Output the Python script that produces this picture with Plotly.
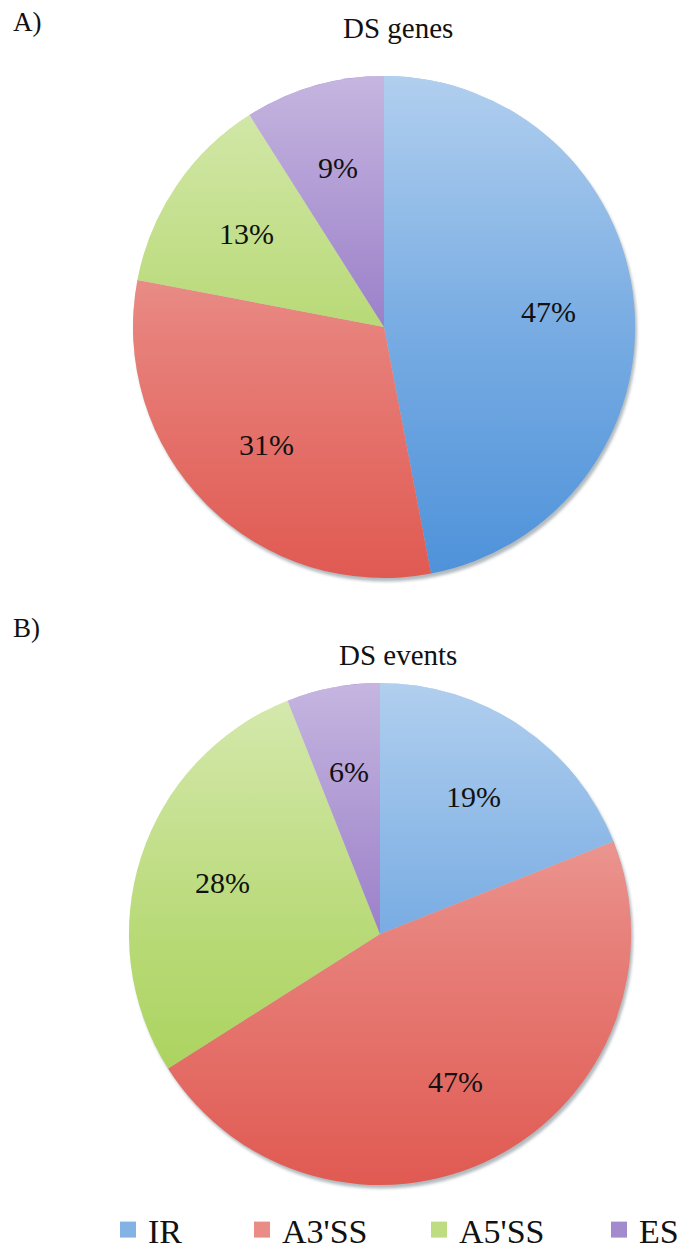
import base64
import math
import plotly.graph_objects as go

# Splicing categories and their shares (%)
categories = ["IR", "A3'SS", "A5'SS", "ES"]
genes_pct = [47, 31, 13, 9]
events_pct = [19, 47, 28, 6]
panel_titles = ["DS genes", "DS events"]
panel_tags = ["A)", "B)"]

# deep slice tones; a white wash over the upper part lightens them
base_rgb = [(78, 146, 218), (224, 90, 82), (162, 206, 76), (124, 88, 184)]
FONT = "Liberation Serif"
INK = "#111111"

W, H = 686, 1254

# Pie placement in pixels: (left, right, top, bottom)
pie_boxes = [(133, 635, 76, 578), (129, 631, 683, 1185)]
LABEL_FRAC = 0.66  # radial position of the percentage labels


def rgb(c):
    return "rgb(%d,%d,%d)" % c


def tint(c, w):
    return tuple(round(v * (1 - w) + 255 * w) for v in c)


def svg_uri(svg):
    return "data:image/svg+xml;base64," + base64.b64encode(svg.encode()).decode()


# vertical light-to-deep shading laid over each pie
SHADE = svg_uri(
    "<svg xmlns='http://www.w3.org/2000/svg' viewBox='0 0 100 100' "
    "preserveAspectRatio='none' width='100' height='100'>"
    "<defs><linearGradient id='g' x1='0' y1='0' x2='0' y2='1'>"
    "<stop offset='0' stop-color='#ffffff' stop-opacity='0.56'/>"
    "<stop offset='0.5' stop-color='#ffffff' stop-opacity='0.24'/>"
    "<stop offset='1' stop-color='#ffffff' stop-opacity='0'/>"
    "</linearGradient></defs>"
    "<circle cx='50' cy='50' r='50' fill='url(#g)'/></svg>"
)
# faint drop shadow beneath each pie
SHADOW = svg_uri(
    "<svg xmlns='http://www.w3.org/2000/svg' viewBox='-5 -5 110 110' "
    "preserveAspectRatio='none' width='110' height='110'>"
    "<defs><filter id='b' x='-20%' y='-20%' width='140%' height='140%'>"
    "<feGaussianBlur stdDeviation='0.35'/></filter></defs>"
    "<circle cx='50.4' cy='50.7' r='50' fill='#9aa3a8' fill-opacity='0.75' "
    "filter='url(#b)'/></svg>"
)

fig = go.Figure()
images = []
annotations = []

for vals, (x0, x1, y0, y1) in zip([genes_pct, events_pct], pie_boxes):
    fig.add_trace(go.Pie(
        labels=categories,
        values=vals,
        sort=False,
        direction="clockwise",
        rotation=0,
        domain=dict(x=[x0 / W, x1 / W], y=[1 - y1 / H, 1 - y0 / H]),
        marker=dict(colors=[rgb(c) for c in base_rgb], line=dict(width=0)),
        textinfo="none",
        showlegend=False,
        hoverinfo="label+value",
    ))
    d = x1 - x0
    pad = d * 5 / 100
    images.append(dict(source=SHADOW, xref="paper", yref="paper",
                       x=(x0 - pad) / W, y=1 - (y0 - pad) / H,
                       sizex=(d + 2 * pad) / W, sizey=(d + 2 * pad) / H,
                       xanchor="left", yanchor="top", sizing="stretch",
                       layer="below"))
    images.append(dict(source=SHADE, xref="paper", yref="paper",
                       x=x0 / W, y=1 - y0 / H, sizex=d / W, sizey=d / H,
                       xanchor="left", yanchor="top", sizing="stretch",
                       layer="above"))

    # percentage labels on each slice's bisector
    cx, cy, r = (x0 + x1) / 2, (y0 + y1) / 2, d / 2
    total = float(sum(vals))
    cum = 0.0
    for v in vals:
        theta = math.radians(360.0 * (cum + v / 2.0) / total)
        cum += v
        lx = cx + LABEL_FRAC * r * math.sin(theta)
        ly = cy - LABEL_FRAC * r * math.cos(theta)
        annotations.append(dict(
            text=f"{v}%", x=lx / W, y=1 - ly / H, xref="paper", yref="paper",
            showarrow=False, xanchor="center", yanchor="middle",
            font=dict(family=FONT, size=30, color=INK),
        ))

# Legend entries, one legend per category so spacing can be set freely
legend_x = [108, 242, 419, 599]
for i, (name, col) in enumerate(zip(categories, base_rgb)):
    key = "legend" if i == 0 else f"legend{i + 1}"
    fig.add_trace(go.Scatter(
        x=[None], y=[None], mode="markers", name=name,
        marker=dict(symbol="square", size=17, color=rgb(tint(col, 0.3))),
        legend=key, showlegend=True, hoverinfo="skip",
    ))

layout_legends = {}
for i in range(len(categories)):
    key = "legend" if i == 0 else f"legend{i + 1}"
    layout_legends[key] = dict(
        orientation="h", yanchor="middle", xanchor="left",
        x=legend_x[i] / W, y=1 - 1230 / H,
        font=dict(family=FONT, size=34, color=INK),
        bgcolor="rgba(0,0,0,0)", itemwidth=30,
    )

for text, y in zip(panel_titles, [28, 655]):
    annotations.append(dict(
        text=text, x=398 / W, y=1 - y / H, xref="paper", yref="paper",
        showarrow=False, xanchor="center", yanchor="middle",
        font=dict(family=FONT, size=29, color=INK),
    ))

for tag, y in zip(panel_tags, [22, 628]):
    annotations.append(dict(
        text=tag, x=11 / W, y=1 - y / H, xref="paper", yref="paper",
        showarrow=False, xanchor="left", yanchor="middle",
        font=dict(family=FONT, size=27, color=INK),
    ))

fig.update_layout(
    width=W, height=H,
    margin=dict(l=0, r=0, t=0, b=0, autoexpand=False),
    font=dict(family=FONT, size=28, color=INK),
    paper_bgcolor="white", plot_bgcolor="white",
    xaxis=dict(visible=False), yaxis=dict(visible=False),
    annotations=annotations,
    images=images,
    **layout_legends,
)

fig.write_html("out.html")
